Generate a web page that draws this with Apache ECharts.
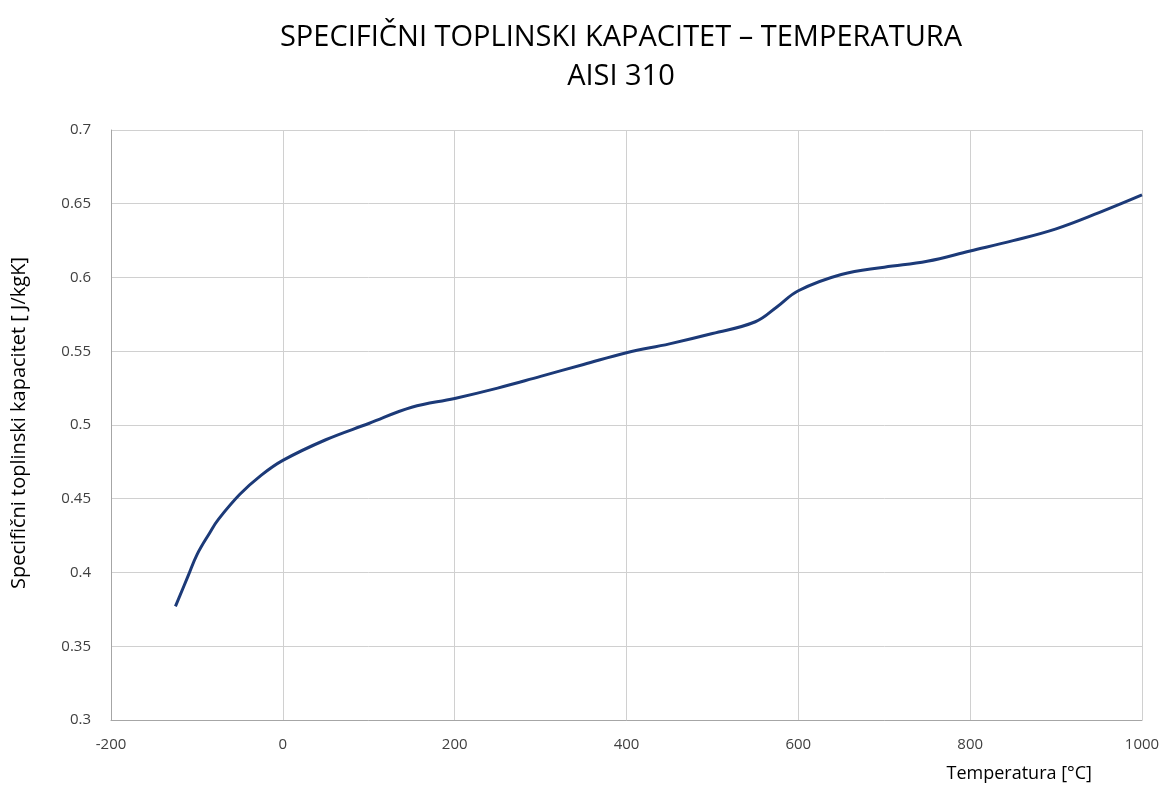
<!DOCTYPE html>
<html>
<head>
<meta charset="utf-8">
<script src="https://cdn.jsdelivr.net/npm/echarts@6/dist/echarts.min.js"></script>
<style>
  html, body { margin: 0; padding: 0; background: #fff; }
  #chart { width: 1165px; height: 787px; }
</style>
</head>
<body>
<div id="chart"></div>
<script>
// temperatura [°C] i specifični toplinski kapacitet
const temperature = [-125, -110, -100, -85, -75, -50, -25, 0, 50, 100, 150, 200, 250, 300, 350, 400, 450, 500, 550, 575, 600, 650, 700, 750, 800, 850, 900, 950, 1000];
const capacity = [0.377, 0.398, 0.412, 0.427, 0.436, 0.453, 0.466, 0.476, 0.490, 0.501, 0.512, 0.518, 0.525, 0.533, 0.541, 0.549, 0.555, 0.562, 0.570, 0.580, 0.591, 0.602, 0.607, 0.611, 0.618, 0.625, 0.633, 0.644, 0.656];

const chart = echarts.init(document.getElementById('chart'));
const grey = '#404040';

chart.setOption({
    animation: false,
    title: {
        text: 'SPECIFIČNI TOPLINSKI KAPACITET – TEMPERATURA\nAISI 310',
        left: 616,
        top: 13,
        textAlign: 'center',
        textStyle: {
            fontFamily: 'Open Sans',
            fontWeight: 'normal',
            fontSize: 29,
            lineHeight: 39,
            color: '#000'
        }
    },
    grid: { left: 111, right: 23, top: 130, bottom: 67, outerBoundsMode: 'none' },
    xAxis: {
        type: 'value',
        min: -200,
        max: 1000,
        interval: 200,
        name: 'Temperatura [°C]',
        nameLocation: 'end',
        nameGap: 0,
        nameTextStyle: {
            fontFamily: 'Open Sans',
            fontSize: 18,
            color: '#000',
            align: 'right',
            verticalAlign: 'top',
            padding: [45, 50, 0, 0]
        },
        axisLine: { show: true, onZero: false, lineStyle: { color: '#a6a6a6', width: 1 } },
        axisTick: { show: false },
        axisLabel: {
            color: grey, fontFamily: 'Open Sans', fontSize: 15, margin: 17,
            formatter: (v) => String(v)
        },
        splitLine: { show: true, lineStyle: { color: '#d0d0d0', width: 1 } }
    },
    yAxis: {
        type: 'value',
        min: 0.3,
        max: 0.7,
        interval: 0.05,
        name: 'Specifični toplinski kapacitet [ J/kgK]',
        nameLocation: 'middle',
        nameGap: 82,
        nameTextStyle: { fontFamily: 'Open Sans', fontSize: 20, color: '#000', padding: [0, 0, 0, 4] },
        axisLine: { show: true, onZero: false, lineStyle: { color: '#a6a6a6', width: 1 } },
        axisTick: { show: false },
        axisLabel: { color: grey, fontFamily: 'Open Sans', fontSize: 15, margin: 20 },
        splitLine: { show: true, lineStyle: { color: '#d0d0d0', width: 1 } }
    },
    series: [{
        type: 'line',
        data: temperature.map((t, i) => [t, capacity[i]]),
        smooth: 0.4,
        showSymbol: false,
        lineStyle: { color: '#1c3a78', width: 3 }
    }]
});
</script>
</body>
</html>
